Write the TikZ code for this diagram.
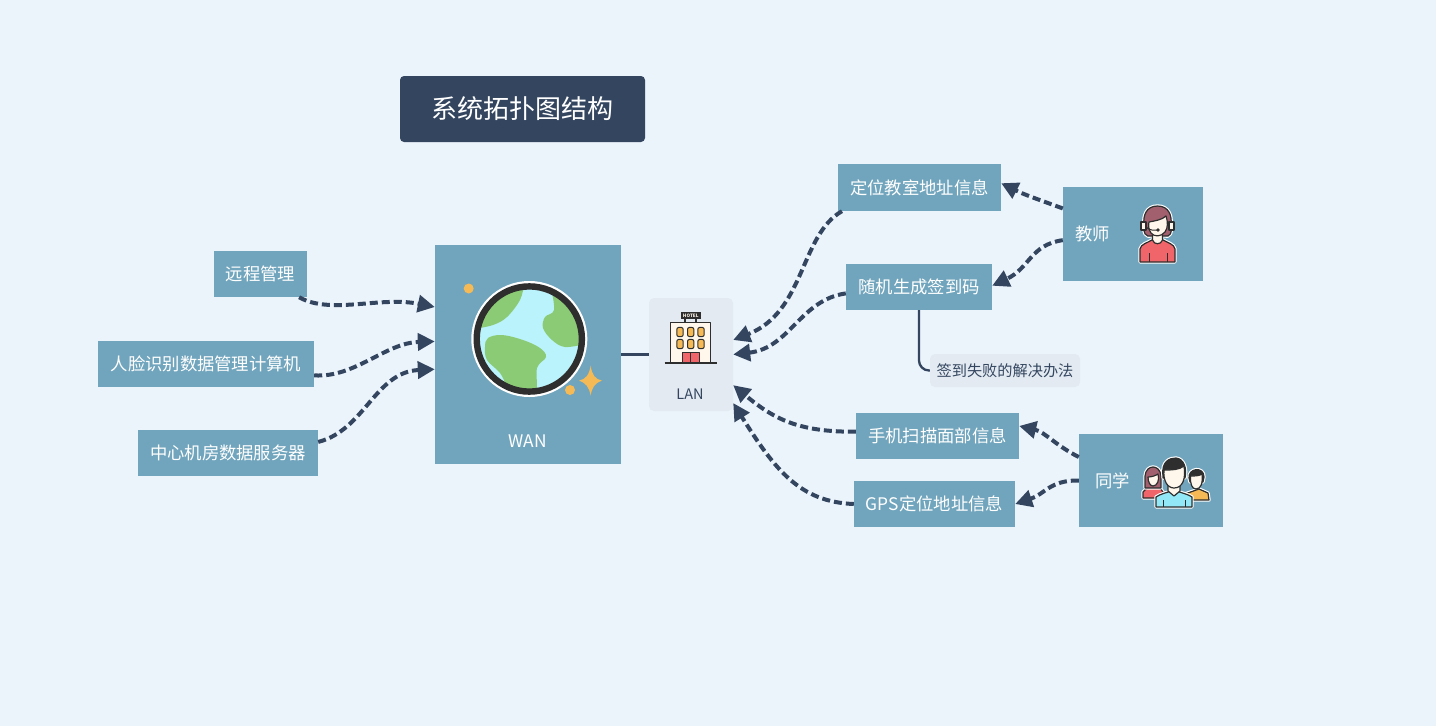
\documentclass[tikz,border=0pt]{standalone}
\usepackage{fontspec}
\setmainfont{Noto Sans CJK SC}
\usetikzlibrary{arrows.meta}
\definecolor{bgcol}{HTML}{EBF3FB}
\definecolor{boxcol}{HTML}{71A5BD}
\definecolor{darkcol}{HTML}{34465F}
\definecolor{palecol}{HTML}{E3EAF2}
\definecolor{inkcol}{HTML}{2E2E2E}
\definecolor{skincol}{HTML}{FFF7EC}
\definecolor{redcol}{HTML}{F0656A}
\definecolor{haircol}{HTML}{A2606E}
\definecolor{goldcol}{HTML}{F5B955}
\definecolor{seacol}{HTML}{BAF3FB}
\definecolor{landcol}{HTML}{8CCB75}
\definecolor{shirtcol}{HTML}{92E8F6}
\begin{document}
\begin{tikzpicture}[x=1pt,y=-1pt,
  main/.style = {fill=boxcol, text=white, inner sep=0pt, font=\fontsize{17.33}{20}\selectfont},
  pale/.style = {fill=palecol, rounded corners=5pt, inner sep=0pt, text=darkcol, font=\fontsize{15.2}{18}\selectfont},
  person/.style = {main, align=left, text width=116pt, inner xsep=12pt, inner ysep=0pt},
  dashlink/.style = {draw=darkcol, line width=4pt, dash pattern=on 8pt off 4pt, -{Triangle[length=17pt,width=17pt]}},
  plainlink/.style = {draw=darkcol, line width=2.3pt},
  icon/.style = {draw=inkcol, line width=1.2pt, line join=round},
  halo/.style = {preaction={draw=white, line width=3.4pt, line join=round}}]
\fill[bgcol] (0,0) rectangle (1436,726);
\useasboundingbox (0,0) rectangle (1436,726);

\node[fill=darkcol, rounded corners=4pt, text=white, minimum width=245pt, minimum height=66pt, inner sep=0pt, font=\fontsize{26}{30}\selectfont] (title) at (522.5,109) {\raisebox{-1pt}{系统拓扑图结构}};

\node[main, minimum width=93pt, minimum height=46pt] (remote) at (260.5,274) {远程管理};
\node[main, minimum width=216pt, minimum height=46pt] (face) at (206,364) {人脸识别数据管理计算机};
\node[main, minimum width=180pt, minimum height=46pt] (server) at (228,453) {中心机房数据服务器};
\node[main, minimum width=186pt, minimum height=219pt] (wan) at (528,354.5) {};
\node[main, fill=none] (wanlabel) at (527.5,441) {WAN};
\node[pale, minimum width=84pt, minimum height=113pt] (lan) at (691,354.5) {};
\node[text=darkcol, inner sep=0pt, font=\fontsize{14.5}{17}\selectfont] (lanlabel) at (690,394.5) {LAN};

\node[main, minimum width=163pt, minimum height=47pt] (locate) at (919.5,187.5) {定位教室地址信息};
\node[main, minimum width=146pt, minimum height=46pt] (random) at (919,287) {随机生成签到码};
\node[pale, minimum width=150pt, minimum height=33pt] (fail) at (1005,370.5) {签到失败的解决办法};
\node[main, minimum width=163pt, minimum height=46pt] (scan) at (937.5,436) {手机扫描面部信息};
\node[main, minimum width=161pt, minimum height=46pt] (gps) at (934.5,504) {GPS定位地址信息};
\node[person, minimum width=140pt, minimum height=94pt] (teacher) at (1133,234) {教师};
\node[person, text width=112pt, minimum width=144pt, minimum height=93pt, inner xsep=16pt] (student) at (1151,480.5) {同学};

% left side into wan
\draw[dashlink] (remote.-31.5) .. controls (330,315) and (380,296) .. (wan.153);
\draw[dashlink] (face.-6.9) .. controls (355,378) and (385,343) .. (wan.172.3);
\draw[dashlink] (server.7) .. controls (365,430) and (375,372) .. (wan.189.5);
\draw[plainlink] (wan.east) -- (lan.west);

% right side into lan
\draw[dashlink] (locate.197.5) .. controls (800,235) and (805,312) .. (lan.19);
\draw[dashlink] (random.185.5) .. controls (800,300) and (790,348) .. (lan.east);
\draw[dashlink] (scan.177.9) .. controls (800,432) and (775,420) .. (lan.-36);
\draw[dashlink] (gps.180.7) .. controls (800,502) and (775,470) .. (lan.-49.1);

% people to their boxes
\draw[dashlink] (teacher.160.3) .. controls (1040,200) and (1025,195) .. (locate.3.9);
\draw[dashlink] (teacher.185.7) .. controls (1030,245) and (1030,268) .. (random.1.6);
\draw[dashlink] (student.162.6) .. controls (1055,445) and (1045,432) .. (scan.7.7);
\draw[dashlink] (student.west) .. controls (1050,480) and (1045,494) .. (gps.east);
\draw[plainlink, rounded corners=10pt] (random.south) |- (fail.west);

% globe
\fill[white] (529.3,339) circle (58);
\fill[seacol] (529.3,339) circle (52);
\begin{scope}
\clip (529.3,339) circle (52);
\fill[landcol] plot[smooth, tension=0.6] coordinates {(524,285) (520,300) (507,317) (493,325) (474,329)} -- (470,283) -- cycle;
\fill[landcol] plot[smooth, tension=0.6] coordinates {(551,288) (554,310) (545,317) (543,328) (552,340) (565,347) (585,344)} -- (590,288) -- cycle;
\fill[landcol] plot[smooth cycle, tension=0.6] coordinates {(488,338) (502,335) (523,340) (540,348) (546,357) (537,368) (535,394) (512,392) (500,373) (487,360) (485,347)};
\end{scope}
\draw[inkcol, line width=6.4pt] (529.3,339) circle (52.6);
\fill[goldcol] (468.7,288.5) circle (5);
\fill[goldcol] (570,390) circle (5);
\fill[goldcol] (590.7,365.7) .. controls (592,375) and (595,379) .. (602,380.7) .. controls (595,383) and (592,387) .. (590.7,395.5) .. controls (589,387) and (586,383) .. (579,380.7) .. controls (586,379) and (589,375) .. (590.7,365.7);

% hotel
\draw[icon, fill=skincol] (670.7,322.7) rectangle (710.7,363);
\draw[icon] (685,319) -- (685,322.7) (696,319) -- (696,322.7);
\fill[inkcol] (680.7,311.7) rectangle (701,319);
\node[text=skincol, inner sep=0pt, font=\bfseries\fontsize{4.6}{5}\selectfont] (hotelsign) at (690.8,315.3) {HOTEL};
\foreach \wx in {680,690.7,701} \foreach \wy in {332,344}
  \draw[inkcol, fill=goldcol, line width=1pt, rounded corners=2pt] (\wx-3.2,\wy+4.6) rectangle (\wx+3.2,\wy-4.6);
\draw[icon, fill=redcol] (682.3,352.7) rectangle (690.8,363);
\draw[icon, fill=redcol] (690.8,352.7) rectangle (699.3,363);
\draw[inkcol, line width=1.6pt] (664.5,363.2) -- (716.5,363.2);

% teacher icon
\draw[icon, fill=redcol, halo] (1140,262) -- (1140,249) .. controls (1141,244) and (1147,243) .. (1152,240) -- (1163,240) .. controls (1168,243) and (1174,244) .. (1175,249) -- (1175,262) -- cycle;
\draw[inkcol, line width=1pt] (1149,253) -- (1149,262) (1167,253) -- (1167,262);
\draw[icon, fill=haircol, halo] (1157.5,206) .. controls (1146,206) and (1143,216) .. (1144,224) .. controls (1142,232) and (1146,238) .. (1152,236) -- (1164,236) .. controls (1170,238) and (1173,232) .. (1171,224) .. controls (1172,216) and (1169,206) .. (1157.5,206) -- cycle;
\draw[icon, fill=skincol] (1152.5,234) -- (1152.5,240) .. controls (1154,245) and (1161,245) .. (1162.5,240) -- (1162.5,234) -- cycle;
\draw[icon, fill=skincol] (1149,222) .. controls (1154,221) and (1162,220) .. (1166,216) .. controls (1168,222) and (1168,228) .. (1165,232) .. controls (1161,237) and (1154,237) .. (1151,233) .. controls (1149,230) and (1148,226) .. (1149,222) -- cycle;
\draw[icon, fill=skincol] (1141,222) rectangle (1146,230);
\draw[icon, fill=skincol] (1169,222) rectangle (1174,230);
\draw[inkcol, line width=1pt] (1146,227) .. controls (1150,231) and (1154,230) .. (1157,230);
\fill[inkcol] (1158,230) circle (1.8);

% student icons
\draw[icon, fill=goldcol, halo] (1185,500) -- (1185,494) -- (1199,489) -- (1208,493) -- (1209,500) -- cycle;
\draw[icon, fill=inkcol, halo] (1189,478) .. controls (1188,468) and (1204,466) .. (1204,477) -- (1203,482) -- (1190,482) -- cycle;
\draw[icon, fill=skincol] (1190.5,476) .. controls (1195,476) and (1199,476) .. (1202,474) .. controls (1203,483) and (1201,489) .. (1196,489) .. controls (1192,489) and (1190,484) .. (1190.5,476) -- cycle;
\draw[icon, fill=redcol, halo] (1143,498) -- (1143,492) .. controls (1146,488) and (1150,487) .. (1153,486) .. controls (1157,487) and (1161,488) .. (1163,492) -- (1163,498) -- cycle;
\draw[icon, fill=haircol, halo] (1145,488) -- (1145,476) .. controls (1146,464) and (1160,464) .. (1161,476) -- (1161,488) -- cycle;
\draw[icon, fill=skincol] (1148,477) .. controls (1151,477) and (1155,476) .. (1158,474) .. controls (1160,480) and (1157,486) .. (1153,486) .. controls (1150,486) and (1148,482) .. (1148,477) -- cycle;
\draw[icon, fill=shirtcol, halo] (1156,507) -- (1156,497) .. controls (1160,494) and (1166,493) .. (1174,490) .. controls (1181,493) and (1188,494) .. (1192,497) -- (1192,507) -- cycle;
\draw[inkcol, line width=1pt] (1163,500) -- (1163,507) (1185,500) -- (1185,507);
\draw[icon, fill=skincol] (1168,484) -- (1168,491) -- (1174,496) -- (1180,491) -- (1180,484) -- cycle;
\draw[icon, fill=inkcol, halo] (1163,476) .. controls (1161,461) and (1170,458) .. (1176,458) .. controls (1184,459) and (1187,468) .. (1185,478) -- (1163,478) -- cycle;
\draw[icon, fill=skincol] (1164,470) .. controls (1172,470) and (1179,470) .. (1184,466) .. controls (1186,478) and (1183,488) .. (1174,488) .. controls (1167,488) and (1163,480) .. (1164,470) -- cycle;
\end{tikzpicture}
\end{document}
